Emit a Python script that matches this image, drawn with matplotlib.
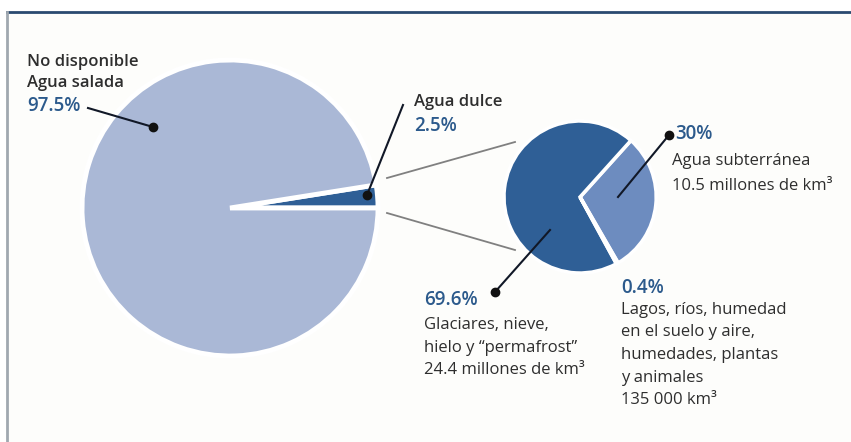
import matplotlib
matplotlib.use('Agg')
import matplotlib.pyplot as plt
from matplotlib.patches import Rectangle

# water on earth, percent
total_pct = [2.5, 97.5]
total_names = ['Agua dulce', 'No disponible\nAgua salada']

# fresh water split, percent
fresh_pct = [30, 69.6, 0.4]
fresh_names = ['Agua subterránea', 'Glaciares, nieve,\nhielo y \u201cpermafrost\u201d',
               'Lagos, ríos, humedad\nen el suelo y aire,\nhumedades, plantas\ny animales']
fresh_volume = ['10.5 millones de km³', '24.4 millones de km³', '135 000 km³']

W, H = 851, 442
plt.rcParams['font.family'] = ['Open Sans', 'DejaVu Sans']

light = '#aab8d6'
dark = '#2f5f96'
mid = '#6d8cbf'
blue_txt = '#2c5a8c'
grey_txt = '#2e2e2e'


def py(y):
    # pixel row -> data y
    return H - y


fig = plt.figure(figsize=(W / 100, H / 100), dpi=100)
fig.patch.set_facecolor('white')
ax = fig.add_axes([0, 0, 1, 1])

# big pie
ax.pie(total_pct, colors=[dark, light], startangle=0, counterclock=True,
       center=(230, py(208)), radius=148,
       wedgeprops=dict(edgecolor='white', linewidth=3.5))

# fresh water pie
ax.pie(fresh_pct, colors=[mid, dark, mid], startangle=-60, counterclock=True,
       explode=[0.19, 0, 0.19], center=(580, py(197)), radius=76,
       wedgeprops=dict(edgecolor='white', linewidth=2.5))

ax.set_xlim(0, W)
ax.set_ylim(0, H)
ax.set_aspect('auto')
ax.axis('off')

# background and frame
ax.add_patch(Rectangle((7, 0), W - 7, py(12), facecolor='#fdfdfb', zorder=-5))
ax.plot([7, W], [py(12), py(12)], color='#2a4a70', lw=2)
ax.plot([7, 7], [py(12), 0], color='#a0a8b0', lw=2)

# zoom lines
ax.plot([387, 515], [py(178), py(142)], color='#808080', lw=1.3)
ax.plot([387, 515], [py(213), py(250)], color='#808080', lw=1.3)

# pointers
pointers = [((88, 108), (153, 127)), ((403, 105), (367, 195)),
            ((669, 135), (618, 197)), ((495, 292), (550, 230))]
for (x0, y0), (x1, y1) in pointers:
    ax.plot([x0, x1], [py(y0), py(y1)], color='#111827', lw=1.5)
for p in [(153, 127), (367, 195), (669, 135), (495, 292)]:
    ax.plot(p[0], py(p[1]), 'o', color='#111111', ms=6)

fs = 12
pfs = 13.5
bold = 'semibold'
body = 'medium'

# big pie labels
ax.text(27, py(62), total_names[1].split('\n')[0], fontsize=fs, color=grey_txt, weight=bold, va='center')
ax.text(27, py(83), total_names[1].split('\n')[1], fontsize=fs, color=grey_txt, weight=bold, va='center')
ax.text(27, py(106), f'{total_pct[1]}%', fontsize=pfs, color=blue_txt, weight=bold, va='center')
ax.text(414, py(102), total_names[0], fontsize=fs, color=grey_txt, weight=bold, va='center')
ax.text(414, py(126), f'{total_pct[0]}%', fontsize=pfs, color=blue_txt, weight=bold, va='center')

# fresh water labels
ax.text(675, py(134), f'{fresh_pct[0]}%', fontsize=pfs, color=blue_txt, weight=bold, va='center')
ax.text(672, py(161), fresh_names[0], fontsize=fs, color=grey_txt, weight=body, va='center')
ax.text(672, py(186), fresh_volume[0], fontsize=fs, color=grey_txt, weight=body, va='center')

ax.text(424, py(300), f'{fresh_pct[1]}%', fontsize=pfs, color=blue_txt, weight=bold, va='center')
for i, line in enumerate(fresh_names[1].split('\n') + [fresh_volume[1]]):
    ax.text(424, py(325 + 22.5 * i), line, fontsize=fs, color=grey_txt, weight=body, va='center')

ax.text(621, py(288), f'{fresh_pct[2]}%', fontsize=pfs, color=blue_txt, weight=bold, va='center')
for i, line in enumerate(fresh_names[2].split('\n') + [fresh_volume[2]]):
    ax.text(621, py(310 + 22.5 * i), line, fontsize=fs, color=grey_txt, weight=body, va='center')

plt.savefig('out.png', dpi=100)
plt.close()
